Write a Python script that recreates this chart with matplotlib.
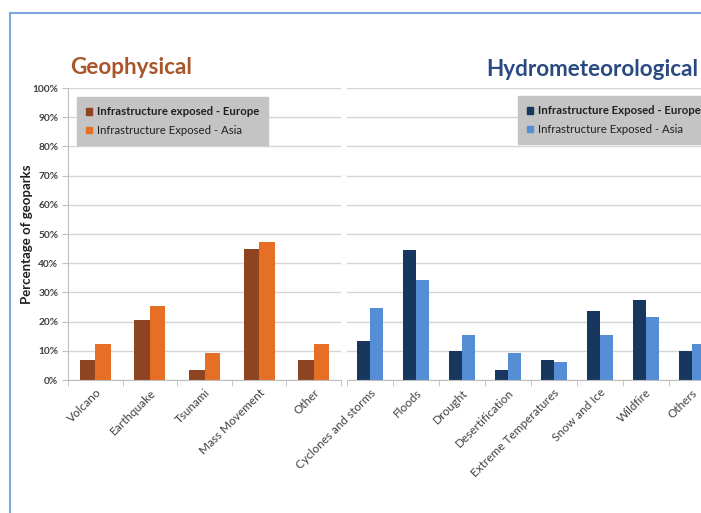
import matplotlib
matplotlib.use("Agg")
import matplotlib.pyplot as plt
from matplotlib.patches import Patch
from matplotlib.lines import Line2D
import numpy as np

plt.rcParams['font.family'] = ['Lato', 'DejaVu Sans']

geo_categories = ["Volcano", "Earthquake", "Tsunami", "Mass Movement", "Other"]
geo_europe = [6.7, 20.6, 3.3, 45.0, 6.7]
geo_asia = [12.5, 25.2, 9.2, 47.2, 12.5]

hydro_categories = ["Cyclones and storms", "Floods", "Drought", "Desertification",
                    "Extreme Temperatures", "Snow and Ice", "Wildfire", "Others"]
hydro_europe = [13.5, 44.6, 10.1, 3.3, 6.7, 23.8, 27.4, 10.1]
hydro_asia = [24.8, 34.2, 15.3, 9.2, 6.0, 15.3, 21.6, 12.4]

yticks = list(range(0, 101, 10))

W, H = 701, 513
fig = plt.figure(figsize=(W / 100, H / 100), dpi=100)

def fx(px):
    return px / W

def fy(py):
    return 1 - py / H

c_geo_eu = '#8E4420'
c_geo_as = '#E46F25'
c_hy_eu = '#17375E'
c_hy_as = '#558ED5'
grid_c = '#D6D6D6'
axis_c = '#BFBFBF'
txt_c = '#404040'

bottom = fy(380)
height = (380 - 88) / H
ax1 = fig.add_axes([fx(68), bottom, fx(341) - fx(68), height])
ax2 = fig.add_axes([fx(346.7), bottom, fx(346.7 + 8 * 46) - fx(346.7), height])

bw = 0.285

def style(ax, cats, left_axis):
    n = len(cats)
    ax.set_xlim(-0.5, n - 0.5)
    ax.set_ylim(0, 100)
    ax.set_yticks(yticks)
    ax.yaxis.grid(True, color=grid_c, lw=1)
    ax.set_axisbelow(True)
    for s in ['top', 'right']:
        ax.spines[s].set_visible(False)
    ax.spines['bottom'].set_color(axis_c)
    ax.spines['left'].set_color(axis_c)
    ax.set_xticks(np.arange(n))
    ax.set_xticklabels(cats, rotation=45, ha='right', rotation_mode='anchor',
                       fontsize=8.5, color=txt_c)
    ax.tick_params(axis='x', length=0, pad=5)
    ax.set_xticks(np.arange(-0.5, n, 1.0), minor=True)
    ax.tick_params(axis='x', which='minor', length=4, color=axis_c)
    if left_axis:
        ax.set_yticklabels(["%d%%" % t for t in yticks], fontsize=7.3,
                           color=txt_c, fontweight='bold')
        ax.tick_params(axis='y', length=4, color=axis_c, pad=3)
    else:
        ax.spines['left'].set_visible(False)
        ax.tick_params(axis='y', length=0, labelleft=False)

x1 = np.arange(len(geo_categories))
ax1.bar(x1 - bw / 2, geo_europe, bw, color=c_geo_eu)
ax1.bar(x1 + bw / 2, geo_asia, bw, color=c_geo_as)
style(ax1, geo_categories, True)
ax1.set_ylabel("Percentage of geoparks", fontsize=9.5, fontweight='bold',
               color='#202020')
ax1.yaxis.set_label_coords(-0.13, 0.5)

x2 = np.arange(len(hydro_categories))
ax2.bar(x2 - bw / 2, hydro_europe, bw, color=c_hy_eu)
ax2.bar(x2 + bw / 2, hydro_asia, bw, color=c_hy_as)
style(ax2, hydro_categories, False)

fig.text(fx(70), fy(68), "Geophysical", fontsize=16.2, fontweight='bold',
         color='#A8552A', ha='left', va='center')
fig.text(fx(698), fy(70), "Hydrometeorological", fontsize=16.2, fontweight='bold',
         color='#2A4A82', ha='right', va='center')

def make_legend(ax, handles, labels, anchor, bold_first):
    leg = ax.legend(handles, labels, loc='upper left', bbox_to_anchor=anchor,
                    bbox_transform=fig.transFigure, fontsize=8.2,
                    frameon=True, fancybox=False, framealpha=1,
                    facecolor='#C4C4C4', edgecolor='#C4C4C4',
                    handlelength=0.55, handleheight=0.55, handletextpad=0.4,
                    labelspacing=0.7, borderpad=0.8, borderaxespad=0)
    for i, t in enumerate(leg.get_texts()):
        t.set_color('#202020')
        if i == 0 and bold_first:
            t.set_fontweight('bold')
    return leg

make_legend(ax1, [Patch(color=c_geo_eu), Patch(color=c_geo_as)],
            ["Infrastructure exposed - Europe", "Infrastructure Exposed - Asia"],
            (fx(77), fy(97)), True)
make_legend(ax2, [Patch(color=c_hy_eu), Patch(color=c_hy_as)],
            ["Infrastructure Exposed - Europe", "Infrastructure Exposed - Asia"],
            (fx(518), fy(96)), True)

border_c = '#7EA6DA'
fig.add_artist(Line2D([fx(10), 1.01], [fy(13), fy(13)], color=border_c, lw=1.5))
fig.add_artist(Line2D([fx(10), fx(10)], [fy(13), -0.01], color=border_c, lw=1.5))

fig.savefig("out.png", dpi=100)
